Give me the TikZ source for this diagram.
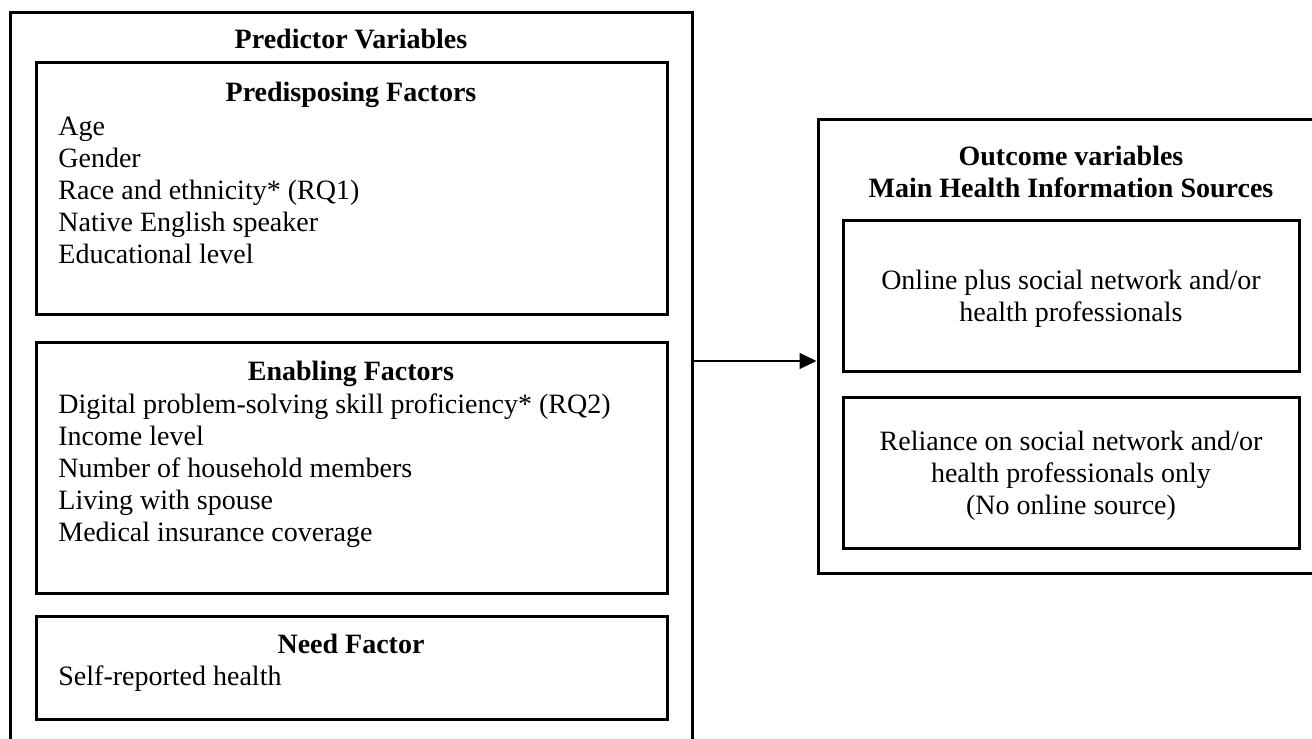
\documentclass[tikz,border=0pt]{standalone}
\usepackage{fontspec}
\setmainfont{Liberation Serif}
\usetikzlibrary{fit,arrows.meta}

\begin{document}
\begin{tikzpicture}[x=0.5pt,y=-0.5pt,
    box/.style={draw, line width=1.5pt, inner sep=0pt},
    head/.style={font=\fontsize{14}{16}\selectfont\bfseries, inner sep=0pt, align=center, anchor=base},
    item/.style={font=\fontsize{14}{16}\selectfont, inner sep=0pt, align=left, anchor=base west},
    choice/.style={font=\fontsize{14}{16}\selectfont, inner sep=0pt, align=center, yshift=-1.5pt},
    arr/.style={line width=0.65pt, -{Triangle[length=8.5pt,width=8pt]}}]
\useasboundingbox (0,0) rectangle (1312,739);
% predictor side (multi-line nodes sit on the baseline of their last line)
\node[box, fit={(10,12) (692,780)}] (pred) {}; % outer frame
\node[head] (predhead) at (351,48) {Predictor Variables};
\node[box, fit={(36,62) (667,314)}] (predis) {};
\node[head] (predishead) at (351,101) {Predisposing Factors};
\node[item] (predislist) at (58,263) {Age\\Gender\\Race and ethnicity* (RQ1)\\Native English speaker\\Educational level};
\node[box, fit={(36,342) (667,593)}] (enab) {};
\node[head] (enabhead) at (351,380) {Enabling Factors};
\node[item] (enablist) at (58,541) {Digital problem-solving skill proficiency* (RQ2)\\Income level\\Number of household members\\Living with spouse\\Medical insurance coverage};
\node[box, fit={(36,616) (667,719)}] (need) {};
\node[head] (needhead) at (351,653) {Need Factor};
\node[item] (needlist) at (58,685) {Self-reported health};
% outcome side
\node[box, fit={(818,119) (1324,573)}] (outc) {}; % outer frame
\node[head] (outchead) at (1071,197) {Outcome variables\\Main Health Information Sources};
\node[box, fit={(843,220) (1299,371)}] (online) {};
\node[choice] (onlinetext) at (online.center) {Online plus social network and/or\\health professionals};
\node[box, fit={(843,397) (1299,548)}] (offline) {};
\node[choice] (offlinetext) at (offline.center) {Reliance on social network and/or\\health professionals only\\(No online source)};
% link
\draw[arr] (pred.east |- 0,361) -- (outc.west |- 0,361);
\end{tikzpicture}
\end{document}
